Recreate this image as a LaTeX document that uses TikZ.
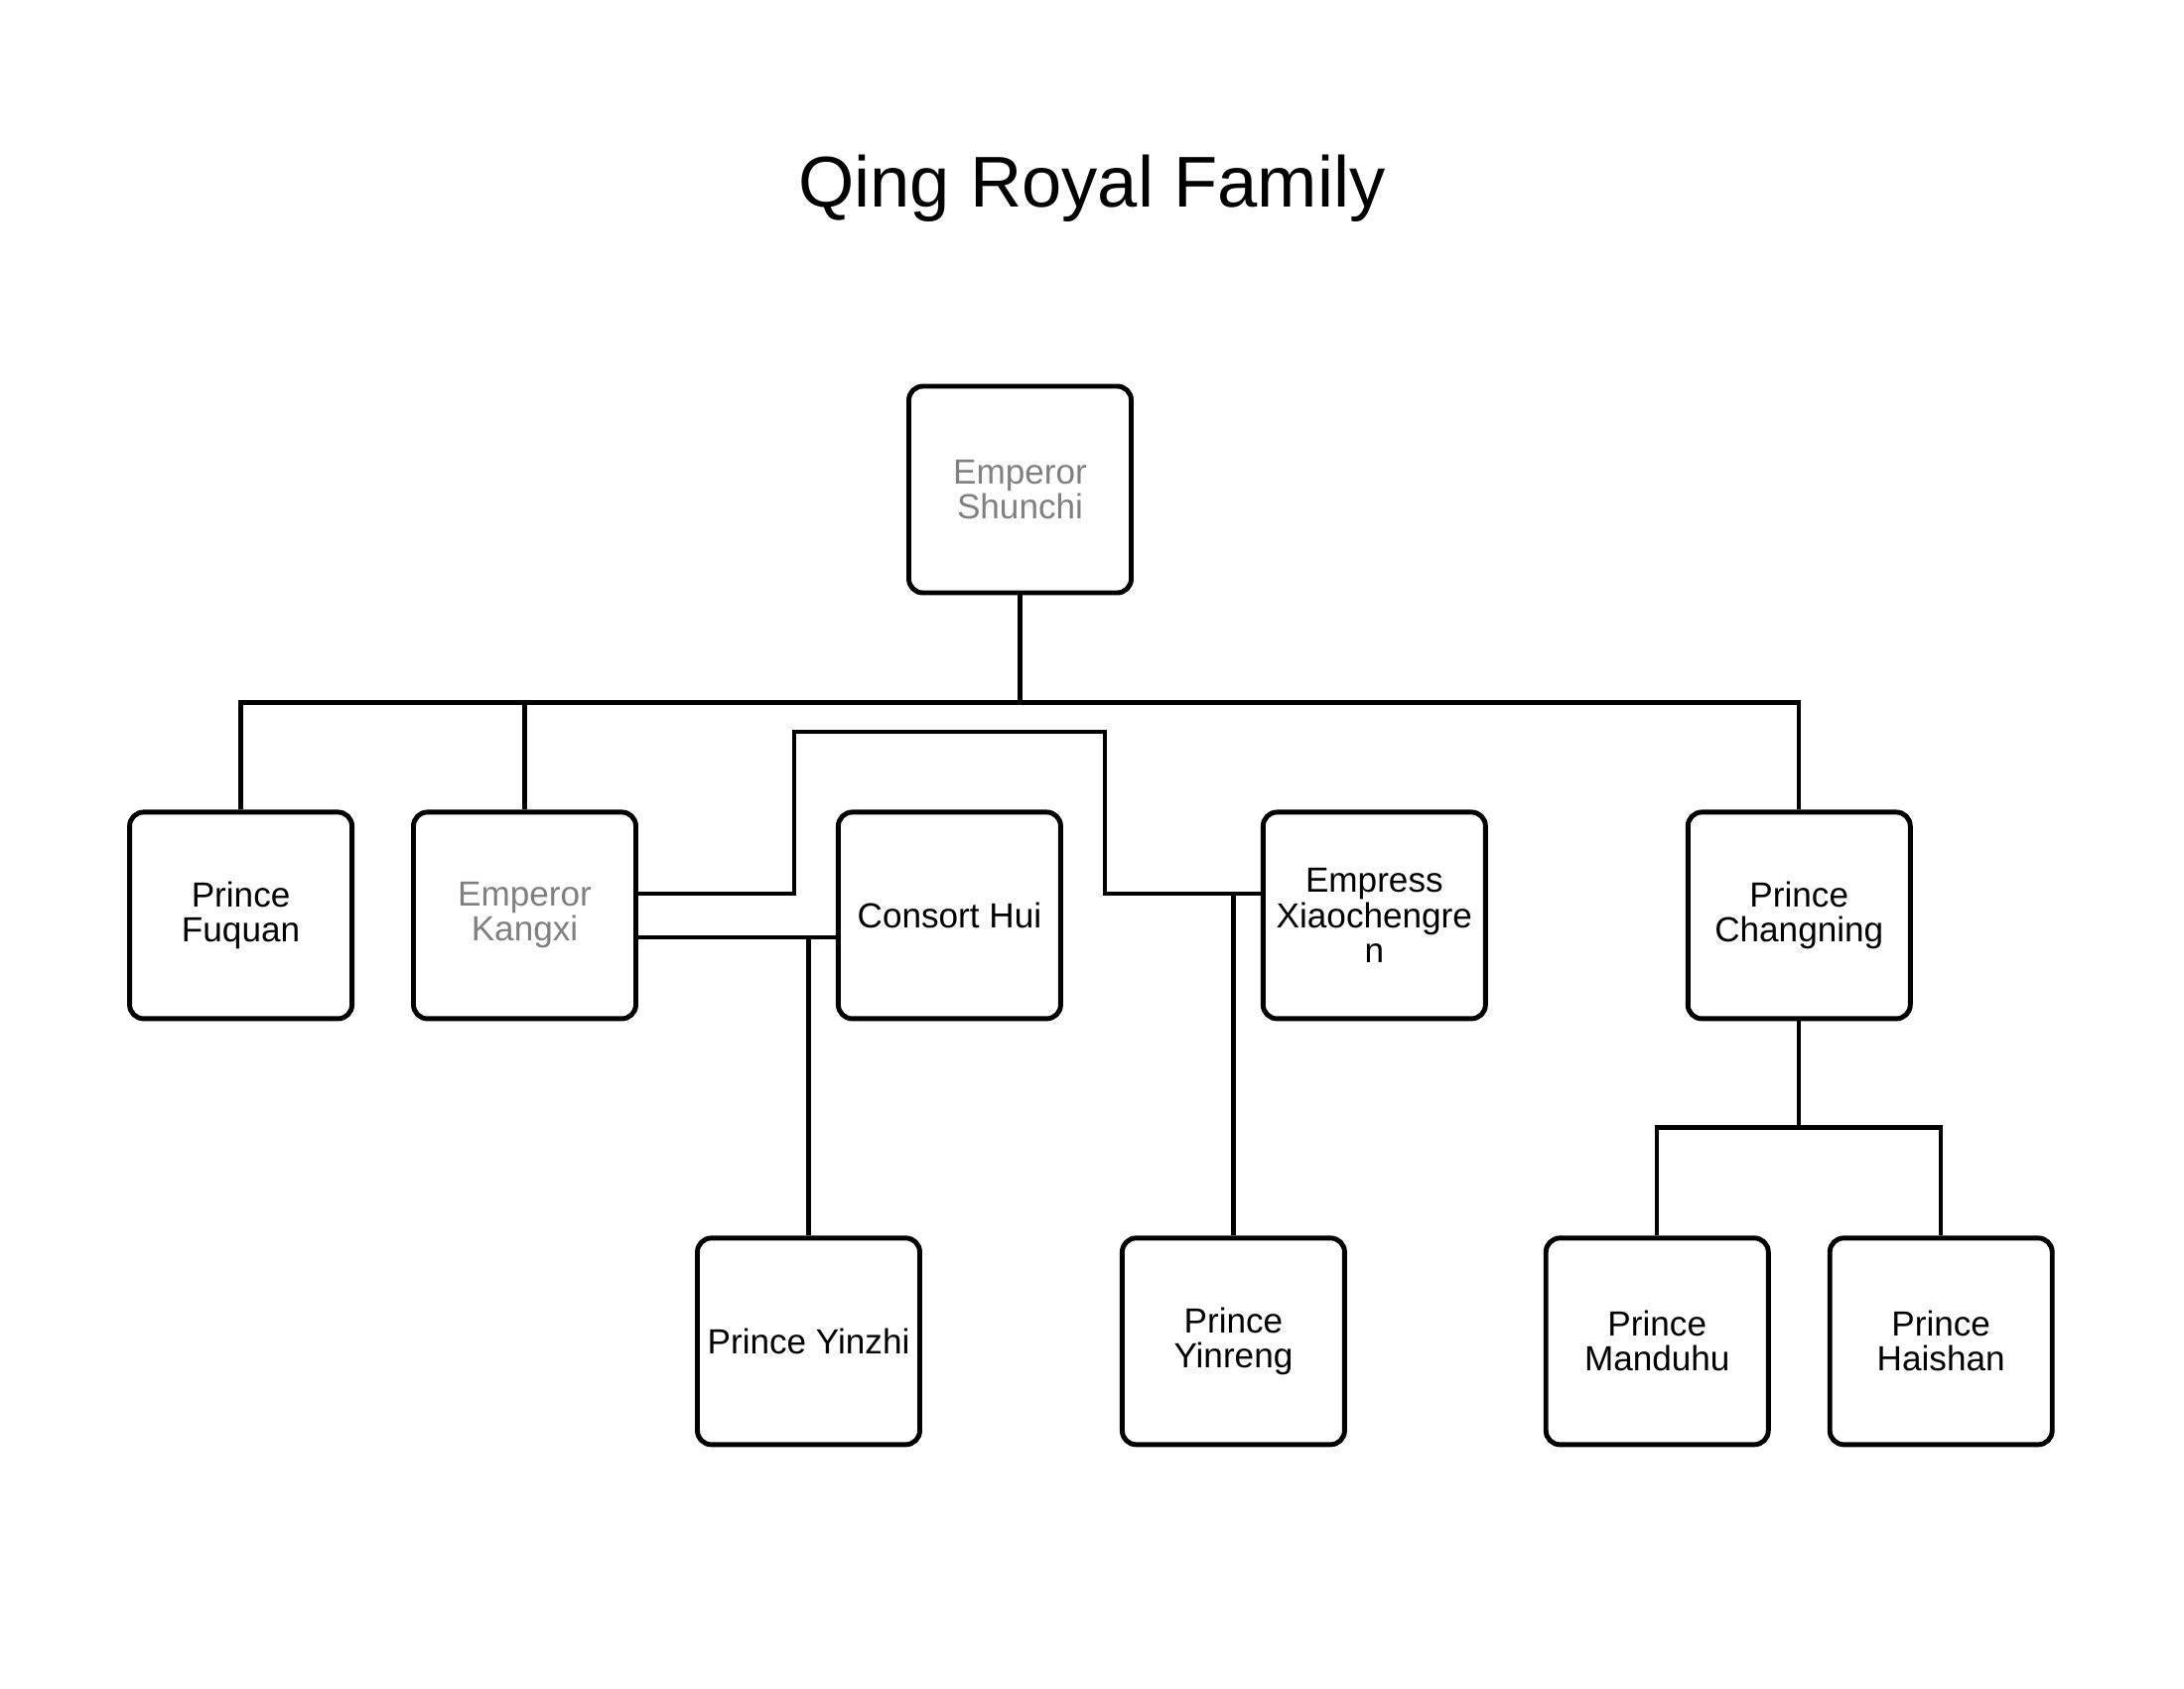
\documentclass[tikz,border=0pt]{standalone}
\usepackage{fontspec}
\setmainfont{Liberation Sans}
\usepackage{tikz}
\usetikzlibrary{positioning,calc}
\definecolor{royal}{RGB}{128,128,128}
\tikzset{
  tie/.style={line width=1.25pt},
  person/.style={draw,line width=1.4pt,rounded corners=4pt,fill=white,align=center,
    font=\fontsize{10}{10}\selectfont,minimum width=2.24cm,minimum height=2.08cm,
    inner sep=2pt},
  ruler/.style={person,text=royal},
  heading/.style={font=\fontsize{20.6}{25}\selectfont,anchor=base},
}
\begin{document}
\begin{tikzpicture}[tie,node distance=2.16cm and 0.57cm]
\useasboundingbox (0,0) rectangle (22,-17);
\node[heading] (title) at (11.0,-2.08) {Qing Royal Family};
\node[ruler] (shunchi) at (10.275,-4.93) {Emperor\\Shunchi};
\node[ruler,below=of shunchi,xshift=-4.99cm] (kangxi) {Emperor\\Kangxi};
\node[person,left=of kangxi] (fuquan) {Prince\\Fuquan};
\node[person,right=1.99cm of kangxi] (hui) {Consort Hui};
\node[person,right=1.99cm of hui] (xiao) {Empress\\Xiaochengre\\n};
\node[person,right=1.99cm of xiao] (changning) {Prince\\Changning};
\node[person,below=of kangxi,xshift=2.86cm] (yinzhi) {Prince Yinzhi};
\node[person,below=of hui,xshift=2.86cm] (yinreng) {Prince\\Yinreng};
\node[person,below=of changning,xshift=-1.43cm] (manduhu) {Prince\\Manduhu};
\node[person,right=of manduhu] (haishan) {Prince\\Haishan};
\coordinate (bus) at ($(shunchi.south)+(0,-1.08)$);
\coordinate (marXiao) at ([yshift=2.2mm]xiao.west);
\coordinate (marHui) at ([yshift=-2.2mm]hui.west);
\draw (shunchi.south) -- (bus);
\draw (fuquan.north) |- (changning.north |- bus) -- (changning.north);
\draw (kangxi.north) -- (kangxi.north |- bus);
\draw ([yshift=2.2mm]kangxi.east) -| ($(kangxi.east)+(1.57,1.85)$) -| ($(marXiao)+(-1.57,0)$) -- (marXiao);
\draw ([yshift=-2.2mm]kangxi.east) -- (marHui);
\draw (yinzhi.north) -- (yinzhi.north |- marHui);
\draw (yinreng.north) -- (yinreng.north |- marXiao);
\draw (changning.south) -- ++(0,-1.07) coordinate (kids);
\draw (manduhu.north) |- (kids) -| (haishan.north);
\end{tikzpicture}
\end{document}
